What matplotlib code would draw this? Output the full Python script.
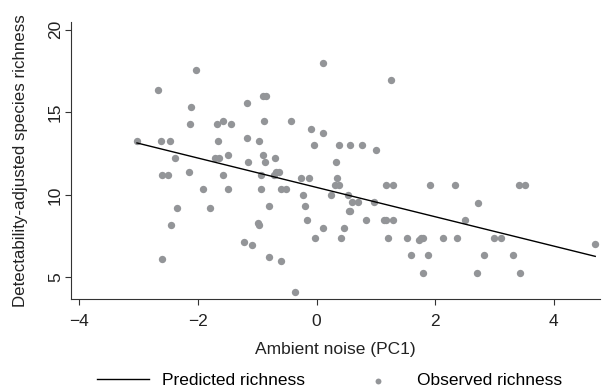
import matplotlib
matplotlib.use("Agg")
import matplotlib.pyplot as plt
import numpy as np

plt.rcParams['font.family'] = ['Liberation Sans', 'DejaVu Sans']

# observed richness vs ambient noise
noise = [-2.03, -2.67, -2.12, -2.13, -1.68, -1.58, -1.44, -3.03, -2.63, -2.48,
         -1.66, -2.39, -1.71, -1.65, -2.61, -2.50, -2.15, -1.92, -2.36, -1.79,
         -2.45, -2.61, -0.90, -0.85, -1.18, -0.88, -0.43, -0.10, -1.18, -0.97,
         -0.04, -1.49, -0.91, -0.70, -1.15, -0.87, -1.58, -0.93, -0.69, -0.64,
         -0.71, -0.26, -0.13, -1.50, -0.94, -0.60, -0.51, -0.23, -0.80, -0.20,
         -0.99, -0.97, -0.16, -0.03, -1.22, -1.09, -0.80, -0.60, -0.36, 0.11,
         1.25, 0.11, 0.37, 0.56, 0.77, 1.00, 0.32, 0.34, 0.31, 0.37,
         1.17, 1.29, 1.91, 0.24, 0.53, 0.60, 0.70, 0.97, 0.54, 0.57,
         0.84, 1.13, 1.17, 1.29, 0.11, 0.47, 0.42, 1.20, 1.53, 1.72,
         1.76, 1.80, 1.59, 1.88, 1.79, 2.33, 3.42, 3.52, 2.72, 2.51,
         2.13, 2.37, 2.99, 3.11, 4.70, 2.82, 3.31, 2.70, 3.43]
richness = [17.59, 16.34, 15.31, 14.28, 14.28, 14.48, 14.28, 13.26, 13.26, 13.26,
            13.26, 12.25, 12.25, 12.25, 11.22, 11.22, 11.38, 10.33, 9.18, 9.18,
            8.17, 6.11, 15.97, 15.97, 15.55, 14.49, 14.49, 13.97, 13.46, 13.26,
            13.00, 12.41, 12.41, 12.25, 11.99, 11.99, 11.22, 11.22, 11.38, 11.38,
            11.22, 10.99, 10.99, 10.33, 10.33, 10.33, 10.33, 9.99, 9.32, 9.32,
            8.27, 8.15, 8.45, 7.40, 7.14, 6.97, 6.21, 6.00, 4.12, 17.99,
            16.94, 13.77, 13.00, 13.00, 13.00, 12.72, 11.99, 11.00, 10.59, 10.59,
            10.59, 10.59, 10.59, 9.99, 9.99, 9.55, 9.55, 9.55, 9.03, 9.03,
            8.47, 8.47, 8.47, 8.47, 7.99, 7.99, 7.40, 7.40, 7.40, 7.26,
            7.40, 7.40, 6.33, 6.33, 5.28, 10.59, 10.59, 10.59, 9.52, 8.47,
            7.40, 7.40, 7.40, 7.40, 7.00, 6.33, 6.33, 5.28, 5.28]

# fitted line
intercept = 10.45
slope = -0.889

fig = plt.figure(figsize=(6.03, 3.91), dpi=100)
ax = fig.add_axes([0.117, 0.235, 0.878, 0.709])

ax.scatter(noise, richness, s=28, color='#939598', linewidths=0, zorder=2,
           label='Observed richness')
xs = np.array([min(noise), max(noise)])
ax.plot(xs, intercept + slope * xs, color='black', lw=1.0, zorder=3,
        label='Predicted richness')

ax.set_xlim(-4.15, 4.78)
ax.set_ylim(3.68, 20.48)
ax.set_xticks([-4, -2, 0, 2, 4])
ax.set_xticklabels(['\u22124', '\u22122', '0', '2', '4'])
ax.set_yticks([5, 10, 15, 20])
for lbl in ax.get_yticklabels():
    lbl.set_rotation(90)
    lbl.set_va('center')

for s in ['top', 'right']:
    ax.spines[s].set_visible(False)
for s in ['left', 'bottom']:
    ax.spines[s].set_color('#333333')
    ax.spines[s].set_linewidth(0.8)
ax.tick_params(direction='out', length=4, width=0.8, labelsize=12.5,
               colors='#333333', labelcolor='#222222')
ax.tick_params(axis='y', pad=1.5)
ax.tick_params(axis='x', pad=7)

ax.set_xlabel('Ambient noise (PC1)', fontsize=12.5, color='#222222', labelpad=9)
ax.set_ylabel('Detectability-adjusted species richness', fontsize=12.2,
              color='#222222')
ax.yaxis.set_label_coords(-0.081, 0.5)

handles, labels = ax.get_legend_handles_labels()
fig.legend(handles[::-1], labels[::-1], loc='center', ncol=2,
           bbox_to_anchor=(0.5465, 0.026), frameon=False, fontsize=12.5,
           handlelength=3.0, columnspacing=2.7, handletextpad=0.75,
           markerscale=0.8)

fig.savefig('out.png', dpi=100)
